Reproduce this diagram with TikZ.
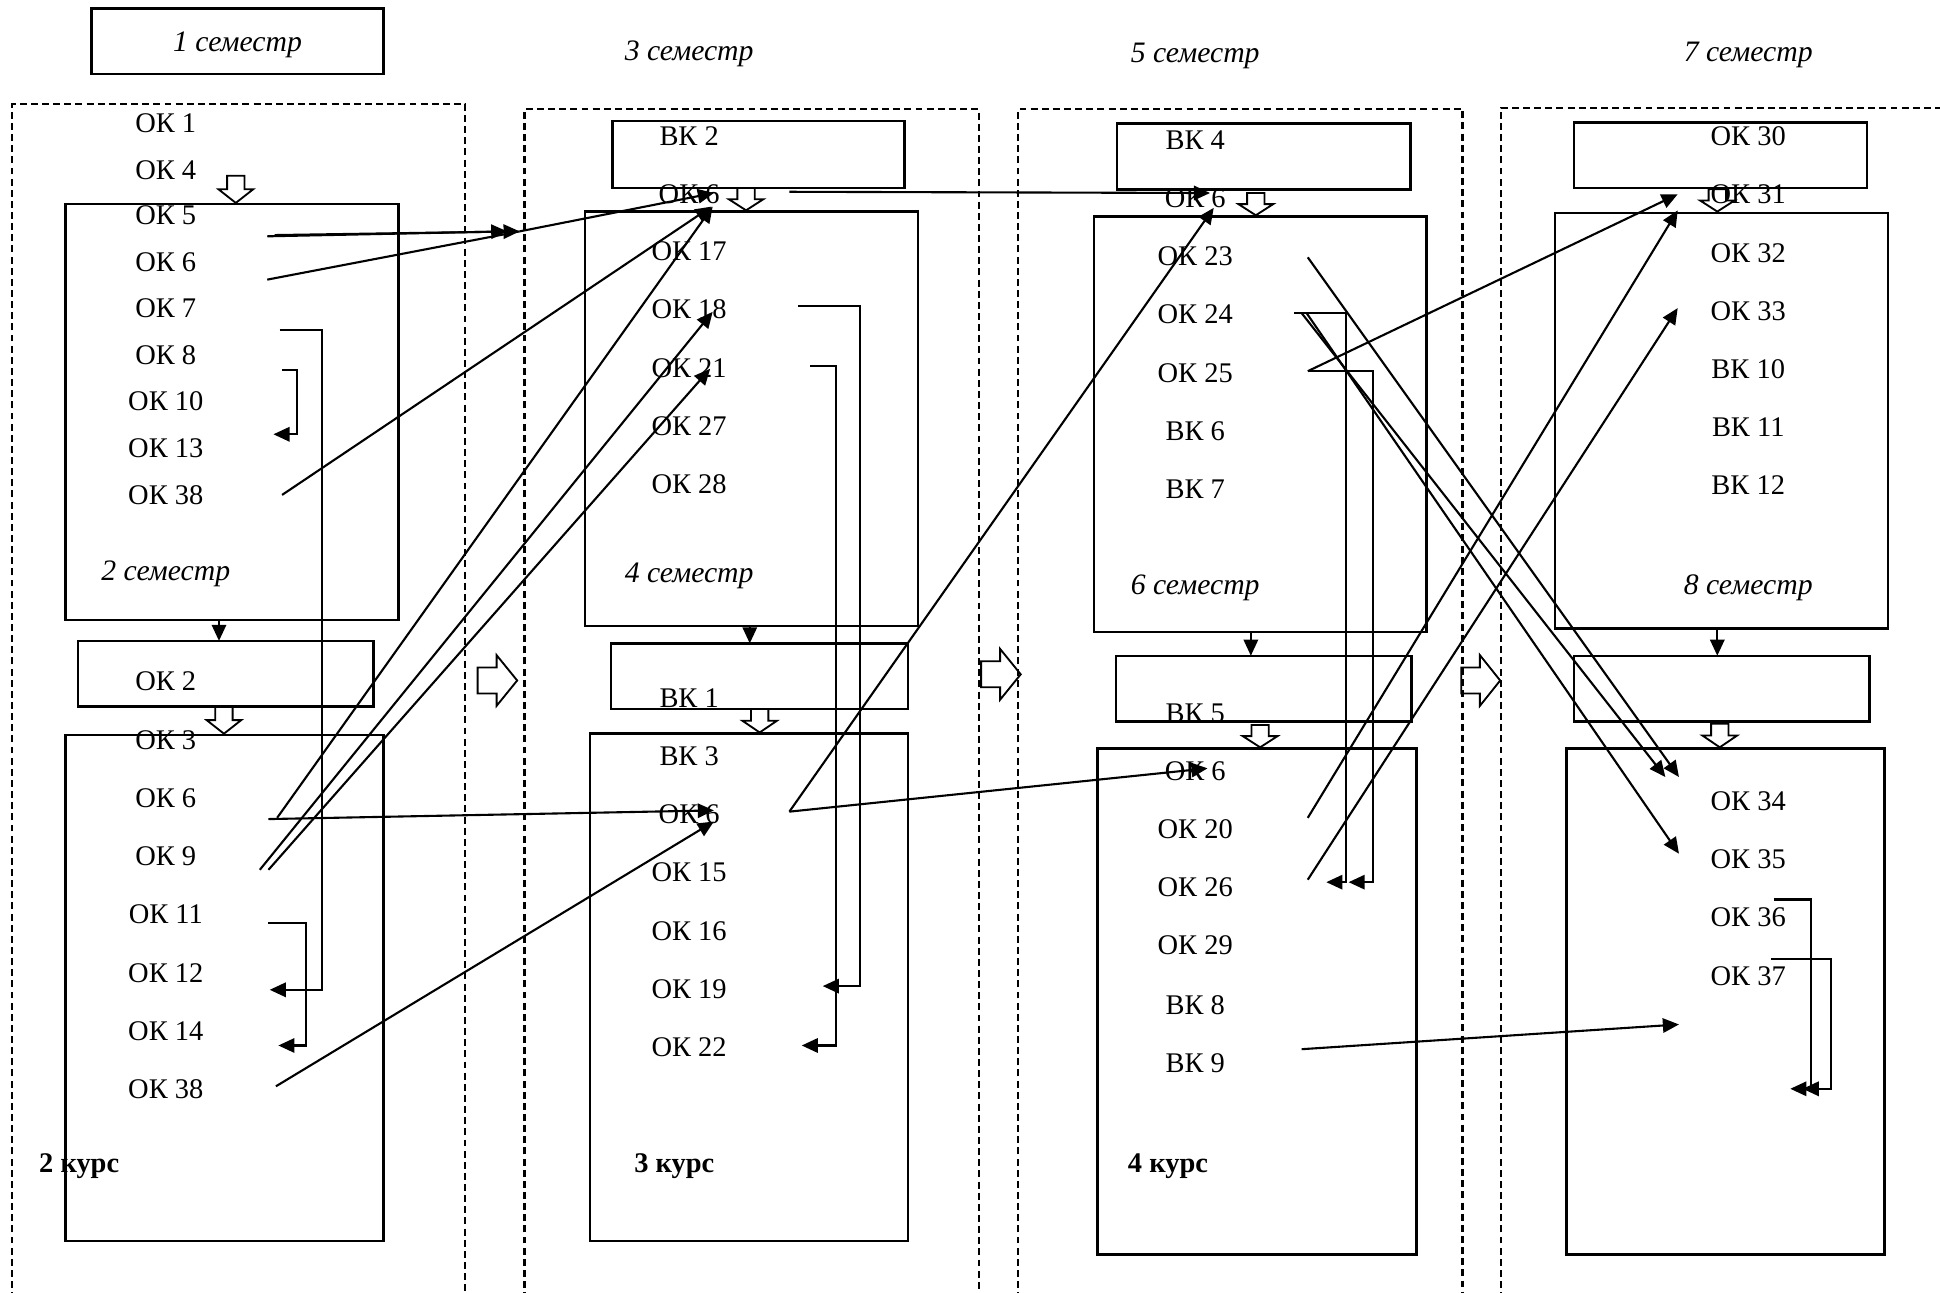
\documentclass[tikz,border=0pt]{standalone}
\usepackage{fontspec}
\setmainfont{Liberation Serif}
\usetikzlibrary{arrows.meta,fit}
\tikzset{
 box/.style={draw, line width=1pt, inner sep=0pt},
 dbox/.style={line width=0.9pt, dash pattern=on 2.8pt off 1.7pt},
 lbl/.style={font=\fontsize{11.5}{13}\selectfont, anchor=base, inner sep=0pt},
 sem/.style={lbl, font=\fontsize{12}{14}\selectfont\itshape},
 kurs/.style={lbl, font=\fontsize{11.5}{13}\selectfont\bfseries},
 conn/.style={line width=0.85pt},
 arr/.style={conn, -{Triangle[length=6.5pt,width=5.8pt]}},
 hollow/.style={draw, line width=0.75pt},
}
\newcommand\mydown[3]{\draw[hollow] ({#1-7},#2) -- ({#1+7},#2) -- ({#1+7},{(#2+#3)/2}) -- ({#1+14},{(#2+#3)/2}) -- (#1,#3) -- ({#1-14},{(#2+#3)/2}) -- ({#1-7},{(#2+#3)/2}) -- cycle;}
\newcommand\myright[3]{\pgfmathsetmacro\myhm{#1+0.48*(#2-#1)}%
 \draw[hollow] (#1,{#3-10.5}) -- (\myhm,{#3-10.5}) -- (\myhm,{#3-20.5}) -- (#2,#3) -- (\myhm,{#3+20.5}) -- (\myhm,{#3+10.5}) -- (#1,{#3+10.5}) -- cycle;}
\newcommand\mylbl[5]{\node[#1] (#2) at (#3,{#4+7.8}) {#5};}
\begin{document}
\begin{tikzpicture}[x=0.5pt,y=-0.5pt]
\useasboundingbox (0,0) rectangle (1568,1045);
% dashed course frames
\draw[dbox] (10,1050) -- (10,84) -- (376,84) -- (376,1050);
\draw[dbox] (424,1050) -- (424,88) -- (791,88) -- (791,1050);
\draw[dbox] (823,1050) -- (823,88) -- (1182,88) -- (1182,1050);
\draw[dbox] (1213,1050) -- (1213,87) -- (1572,87);
% boxes
\node[box, fit={(74,7) (310,60)}] (b0) {};
\node[box, fit={(53,165) (322,501)}] (b1) {};
\node[box, fit={(63,518) (302,571)}] (b2) {};
\node[box, fit={(53,594) (310,1003)}] (b3) {};
\node[box, fit={(495,98) (731,152)}] (b4) {};
\node[box, fit={(473,171) (742,506)}] (b5) {};
\node[box, fit={(494,520) (734,573)}] (b6) {};
\node[box, fit={(477,593) (734,1003)}] (b7) {};
\node[box, fit={(903,100) (1140,153)}] (b8) {};
\node[box, fit={(884,175) (1153,511)}] (b9) {};
\node[box, fit={(902,530) (1141,583)}] (b10) {};
\node[box, fit={(887,605) (1145,1014)}] (b11) {};
\node[box, fit={(1272,99) (1509,152)}] (b12) {};
\node[box, fit={(1257,172) (1526,508)}] (b13) {};
\node[box, fit={(1272,530) (1511,583)}] (b14) {};
\node[box, fit={(1266,605) (1523,1014)}] (b15) {};
% hollow arrows
\mydown{190.6}{142}{164}
\mydown{181}{571}{593}
\mydown{603}{152}{170}
\mydown{614}{573}{592}
\mydown{1015}{156}{174}
\mydown{1018.5}{586}{604}
\mydown{1388}{153}{171}
\mydown{1390}{585}{604}
\myright{386}{418}{550}
\myright{793}{825}{545}
\myright{1181}{1212.5}{550}
% labels column 1
\mylbl{sem}{s1}{192}{34}{1 семестр}
\mylbl{lbl}{a1}{134}{99}{ОК 1}
\mylbl{lbl}{a4}{134}{137}{ОК 4}
\mylbl{lbl}{a5}{134}{174}{ОК 5}
\mylbl{lbl}{a6}{134}{212}{ОК 6}
\mylbl{lbl}{a7}{134}{249}{ОК 7}
\mylbl{lbl}{a8}{134}{287}{ОК 8}
\mylbl{lbl}{a10}{134}{324}{ОК 10}
\mylbl{lbl}{a13}{134}{362}{ОК 13}
\mylbl{lbl}{a38}{134}{400}{ОК 38}
\mylbl{sem}{s2}{134}{461}{2 семестр}
\mylbl{lbl}{a2}{134}{550}{ОК 2}
\mylbl{lbl}{c3}{134}{598}{ОК 3}
\mylbl{lbl}{c6}{134}{645}{ОК 6}
\mylbl{lbl}{c9}{134}{692}{ОК 9}
\mylbl{lbl}{c11}{134}{739}{ОК 11}
\mylbl{lbl}{c12}{134}{786}{ОК 12}
\mylbl{lbl}{c14}{134}{833}{ОК 14}
\mylbl{lbl}{c38}{134}{880}{ОК 38}
\mylbl{kurs}{k2}{64}{940}{2 курс}
% labels column 2
\mylbl{sem}{s3}{557}{41}{3 семестр}
\mylbl{lbl}{d2}{557}{110}{ВК 2}
\mylbl{lbl}{d6}{557}{157}{ОК 6}
\mylbl{lbl}{d17}{557}{203}{ОК 17}
\mylbl{lbl}{d18}{557}{250}{ОК 18}
\mylbl{lbl}{d21}{557}{297}{ОК 21}
\mylbl{lbl}{d27}{557}{344}{ОК 27}
\mylbl{lbl}{d28}{557}{391}{ОК 28}
\mylbl{sem}{s4}{557}{463}{4 семестр}
\mylbl{lbl}{e1}{557}{564}{ВК 1}
\mylbl{lbl}{e3}{557}{611}{ВК 3}
\mylbl{lbl}{e6}{557}{658}{ОК 6}
\mylbl{lbl}{e15}{557}{705}{ОК 15}
\mylbl{lbl}{e16}{557}{752}{ОК 16}
\mylbl{lbl}{e19}{557}{799}{ОК 19}
\mylbl{lbl}{e22}{557}{846}{ОК 22}
\mylbl{kurs}{k3}{545}{940}{3 курс}
% labels column 3
\mylbl{sem}{s5}{966}{43}{5 семестр}
\mylbl{lbl}{f4}{966}{113}{ВК 4}
\mylbl{lbl}{f6}{966}{160}{ОК 6}
\mylbl{lbl}{f23}{966}{207}{ОК 23}
\mylbl{lbl}{f24}{966}{254}{ОК 24}
\mylbl{lbl}{f25}{966}{301}{ОК 25}
\mylbl{lbl}{fv6}{966}{348}{ВК 6}
\mylbl{lbl}{fv7}{966}{395}{ВК 7}
\mylbl{sem}{s6}{966}{473}{6 семестр}
\mylbl{lbl}{g5}{966}{576}{ВК 5}
\mylbl{lbl}{g6}{966}{623}{ОК 6}
\mylbl{lbl}{g20}{966}{670}{ОК 20}
\mylbl{lbl}{g26}{966}{717}{ОК 26}
\mylbl{lbl}{g29}{966}{764}{ОК 29}
\mylbl{lbl}{gv8}{966}{812}{ВК 8}
\mylbl{lbl}{gv9}{966}{859}{ВК 9}
\mylbl{kurs}{k4}{944}{940}{4 курс}
% labels column 4
\mylbl{sem}{s7}{1413}{42}{7 семестр}
\mylbl{lbl}{h30}{1413}{110}{ОК 30}
\mylbl{lbl}{h31}{1413}{157}{ОК 31}
\mylbl{lbl}{h32}{1413}{204}{ОК 32}
\mylbl{lbl}{h33}{1413}{251}{ОК 33}
\mylbl{lbl}{hv10}{1413}{298}{ВК 10}
\mylbl{lbl}{hv11}{1413}{345}{ВК 11}
\mylbl{lbl}{hv12}{1413}{392}{ВК 12}
\mylbl{sem}{s8}{1413}{473}{8 семестр}
\mylbl{lbl}{i34}{1413}{647}{ОК 34}
\mylbl{lbl}{i35}{1413}{694}{ОК 35}
\mylbl{lbl}{i36}{1413}{741}{ОК 36}
\mylbl{lbl}{i37}{1413}{789}{ОК 37}
% connector end points
\coordinate (p1) at (216,191); \coordinate (q1) at (410,187);
\coordinate (p2) at (222,190); \coordinate (q2) at (420,187);
\coordinate (p3) at (216,226);
\coordinate (q4) at (577,156);
\coordinate (p5) at (228,400); \coordinate (q5) at (575,167);
\coordinate (p6) at (226,267); \coordinate (k6) at (260,800); \coordinate (q6) at (218,800);
\coordinate (p7) at (228,299); \coordinate (k7) at (240,351); \coordinate (q7) at (221,351);
\coordinate (p8) at (224,661); \coordinate (q8) at (576,167);
\coordinate (p9) at (217,662); \coordinate (q9) at (577,655);
\coordinate (p10) at (210,703); \coordinate (q10) at (576,252);
\coordinate (p11) at (217,703); \coordinate (q11) at (574,298);
\coordinate (p12) at (217,746); \coordinate (k12) at (247,845); \coordinate (q12) at (225,845);
\coordinate (p13) at (223,878); \coordinate (q13) at (577,664);
\coordinate (p14) at (638,155); \coordinate (q14) at (978,156);
\coordinate (p15) at (645,247); \coordinate (k15) at (695,797); \coordinate (q15) at (665,797);
\coordinate (p16) at (655,296); \coordinate (k16) at (676,845); \coordinate (q16) at (648,845);
\coordinate (p17) at (638,656); \coordinate (q17) at (981,168);
\coordinate (q18) at (976,621);
\coordinate (p19) at (1057,208); \coordinate (q19) at (1357,628);
\coordinate (p20) at (1046,253); \coordinate (k20) at (1088,713); \coordinate (q20) at (1072,713);
\coordinate (p21) at (1052,253); \coordinate (q21) at (1346,628);
\coordinate (p22) at (1056,253); \coordinate (q22) at (1357,690);
\coordinate (p23) at (1057,300); \coordinate (k23) at (1110,713); \coordinate (q23) at (1090,713);
\coordinate (q24) at (1356,157);
\coordinate (p25) at (1057,661); \coordinate (q25) at (1356,170);
\coordinate (p26) at (1057,711); \coordinate (q26) at (1356,249);
\coordinate (p27) at (1052,848); \coordinate (q27) at (1357,828);
\coordinate (p28) at (1434,727); \coordinate (k28) at (1464,880); \coordinate (q28) at (1447,880);
\coordinate (p29) at (1431,775); \coordinate (k29) at (1480,880); \coordinate (q29) at (1457,880);
\coordinate (f1a) at (177,501); \coordinate (f1b) at (177,518);
\coordinate (f2a) at (606,506); \coordinate (f2b) at (606,520);
\coordinate (f3a) at (1011,511); \coordinate (f3b) at (1011,530);
\coordinate (f4a) at (1388,508); \coordinate (f4b) at (1388,530);
% connectors
\draw[arr] (p1) -- (q1);
\draw[arr] (p2) -- (q2);
\draw[conn] (p3) -- (q2);
\draw[arr] (q2) -- (q4);
\draw[arr] (p5) -- (q5);
\draw[arr] (p6) -| (k6) -- (q6);
\draw[arr] (p7) -| (k7) -- (q7);
\draw[arr] (p8) -- (q8);
\draw[arr] (p9) -- (q9);
\draw[arr] (p10) -- (q10);
\draw[arr] (p11) -- (q11);
\draw[arr] (p12) -| (k12) -- (q12);
\draw[arr] (p13) -- (q13);
\draw[arr] (p14) -- (q14);
\draw[arr] (p15) -| (k15) -- (q15);
\draw[arr] (p16) -| (k16) -- (q16);
\draw[arr] (p17) -- (q17);
\draw[arr] (p17) -- (q18);
\draw[arr] (p19) -- (q19);
\draw[arr] (p20) -| (k20) -- (q20);
\draw[arr] (p21) -- (q21);
\draw[arr] (p22) -- (q22);
\draw[arr] (p23) -| (k23) -- (q23);
\draw[arr] (p23) -- (q24);
\draw[arr] (p25) -- (q25);
\draw[arr] (p26) -- (q26);
\draw[arr] (p27) -- (q27);
\draw[arr] (p28) -| (k28) -- (q28);
\draw[arr] (p29) -| (k29) -- (q29);
\draw[arr] (f1a) -- (f1b);
\draw[arr] (f2a) -- (f2b);
\draw[arr] (f3a) -- (f3b);
\draw[arr] (f4a) -- (f4b);
\end{tikzpicture}
\end{document}
